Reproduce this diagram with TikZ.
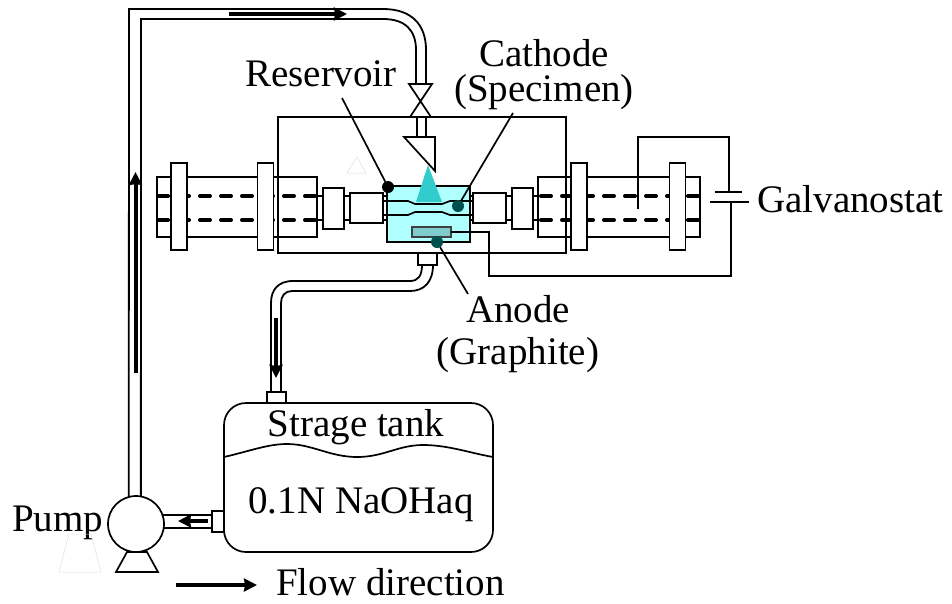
\documentclass[tikz,border=0pt]{standalone}
\usepackage{fontspec}
\setmainfont{Liberation Serif}
\usetikzlibrary{arrows.meta,backgrounds}
\definecolor{bath cyan}{HTML}{AFFFFF}
\definecolor{jet teal}{HTML}{33CCCC}
\definecolor{plate teal}{HTML}{80CCCC}
\definecolor{dot teal}{HTML}{004F4F}
\tikzset{
    rig box/.style={
        rectangle,
        draw=black,
        fill=white,
        line width=1.7pt,
        inner sep=0pt,
        outer sep=0pt
    },
    rig line/.style={line width=1.7pt, black},
    pipe wall/.style={line width=1.8pt, black},
    rig label/.style={font=\fontsize{39}{#1}\selectfont, text=black, inner sep=0pt, align=center},
    rig label/.default=42,
    rod dash/.style={line width=4pt, line cap=round, dash pattern=on 10pt off 11pt, dash phase=-2pt},
    flow arrow/.style={line width=4pt, -{Stealth[length=13pt,width=13pt,inset=1pt]}},
    leader dot/.style={circle, fill=#1, draw=none, minimum size=12pt, inner sep=0pt, outer sep=0pt},
    ghost line/.style={line width=0.5pt, draw=black!13}
}
\begin{document}
\begin{tikzpicture}[x=1pt,y=-1pt]
\useasboundingbox (0,0) rectangle (952,603);

% Tubes on both sides of the cell
\node[rig box, minimum width=160pt, minimum height=60pt] (tube left) at (237,207) {};
\node[rig box, minimum width=162pt, minimum height=60pt] (tube right) at (619,207) {};
\draw[rod dash] (317,196) -- (157,196);
\draw[rod dash] (317,220) -- (157,220);
\draw[rod dash] (700,196) -- (538,196);
\draw[rod dash] (700,220) -- (538,220);
\foreach \xpos/\name in {179/a, 265.5/b, 579/c, 677.5/d}
    \node[rig box, minimum width=16pt, minimum height=87pt] (flange \name) at (\xpos,206.5) {};

% Couplings and rods
\draw[rig line] (317,196) -- (512,196) (317,220) -- (512,220);
\draw[rig line] (533,196) -- (538,196) (533,220) -- (538,220);
\node[rig box, minimum width=21pt, minimum height=41pt] (coupling left) at (333.5,208.5) {};
\node[rig box, minimum width=21pt, minimum height=41pt] (coupling right) at (522.5,208.5) {};
\node[rig box, minimum width=33pt, minimum height=30pt] (holder left) at (366.5,208) {};
\node[rig box, minimum width=33pt, minimum height=30pt] (holder right) at (489.5,208) {};

% Cell and reservoir
\node[rig box, fill=bath cyan, minimum width=83pt, minimum height=56pt] (reservoir) at (428.5,214) {};
\draw[rig line] (383,201) -- (408,201) -- (415,204) -- (442,204) -- (450,201) -- (473,201);
\draw[rig line] (383,215) -- (408,215) -- (415,212) -- (442,212) -- (450,215) -- (473,215);
\fill[jet teal] (428,165) -- (442,202) -- (416,202) -- cycle;
\node[rig box, draw=black!75, fill=plate teal, minimum width=39pt, minimum height=10pt] (anode plate) at (431.5,232) {};
\node[rig box, fill=none, minimum width=288pt, minimum height=136pt] (chamber) at (422,185) {};
\draw[rig line, fill=white] (404,137) -- (435,137) -- (435,171) -- cycle;
\coordinate (nozzle a) at (417,137);
\coordinate (nozzle b) at (426,137);
\draw[rig line] (nozzle a) -- (417,116) (nozzle b) -- (426,116);
\draw[rig line] (409,84) -- (432,84) -- (410,117) -- (431,117) -- cycle;
\node[rig box, minimum width=19pt, minimum height=12pt] (port cell) at (427.5,259) {};

% Leader lines
\node[leader dot=black] (dot reservoir) at (388,187) {};
\node[leader dot=dot teal] (dot cathode) at (458,206) {};
\node[leader dot=dot teal] (dot anode) at (437,242) {};
\coordinate (end reservoir) at (342,98);
\coordinate (end cathode) at (513,113);
\coordinate (end anode) at (468,294);
\draw[rig line] (end reservoir) -- (dot reservoir);
\draw[rig line] (end cathode) -- (dot cathode);
\draw[rig line] (dot anode) -- (end anode);

% Galvanostat wiring
\coordinate (cap top) at (729,192);
\coordinate (cap bottom) at (731,202);
\coordinate (probe) at (638,209);
\draw[rig line] (anode plate.east) -- (489,232) -- (489,276) -- (731,276) -- (cap bottom);
\draw[rig line] (probe) -- (638,137) -- (729,137) -- (cap top);
\draw[rig line] (715,192) -- (742,192) (710,202) -- (749,202);

% Tank and pump
\node[rig box, rounded corners=22pt, minimum width=269pt, minimum height=149pt] (tank) at (358.5,477.5) {};
\draw[rig line] (tank.west |- 0,457) .. controls (250,451) and (268,444) .. (287,444)
    .. controls (312,444) and (330,457) .. (357,457)
    .. controls (384,457) and (398,445) .. (423,445)
    .. controls (448,445) and (470,453) .. (tank.east |- 0,457);
\node[rig box, minimum width=19pt, minimum height=11pt] (port top) at (276.5,397.5) {};
\node[rig box, minimum width=12pt, minimum height=21pt] (port side) at (218,521.5) {};
\draw[rig line, fill=white] (127,552) -- (147,552) -- (158,572) -- (116,572) -- cycle;
\node[rig box, circle, minimum size=56pt] (pump) at (136,524) {};
\draw[pipe wall] (pump.19) -- (port side.west |- pump.19);
\draw[pipe wall] (pump.-8) -- (port side.west |- pump.-8);

% Piping
\draw[pipe wall] (pump.105) -- (129,9) -- (383,9) .. controls (411,9) and (426,24) .. (426,50) -- (426,84);
\draw[pipe wall] (pump.80) -- (141,19) -- (383,19) .. controls (405,19) and (416,30) .. (416,50) -- (416,84);
\draw[pipe wall] (port cell.south -| 422,0) .. controls (422,276) and (418,281) .. (410,281) -- (293,281)
    .. controls (278,281) and (271,290) .. (271,303) -- (271,392);
\draw[pipe wall] (port cell.south -| 433,0) .. controls (433,282) and (424,291) .. (410,291) -- (292,291)
    .. controls (285,291) and (281,296) .. (281,303) -- (281,392);

% Flow arrows
\coordinate (flow a) at (135.5,373);
\coordinate (flow b) at (135.5,172);
\coordinate (flow c) at (229,14);
\coordinate (flow d) at (347,14);
\coordinate (flow e) at (276,318);
\coordinate (flow f) at (276,378);
\coordinate (flow g) at (208,521);
\coordinate (flow h) at (178,521);
\coordinate (flow i) at (176,585);
\coordinate (flow j) at (257,585);
\foreach \from/\to in {a/b, c/d, e/f, g/h, i/j}
    \draw[flow arrow] (flow \from) -- (flow \to);

% Labels
\node[rig label, anchor=base] (label reservoir) at (321,86) {Reservoir};
\node[rig label=35] (label cathode) at (544,75) {Cathode\\(Specimen)};
\node[rig label, anchor=base west] (label galvanostat) at (757,212) {Galvanostat};
\node[rig label] (label anode) at (518,334) {Anode\\(Graphite)};
\node[rig label, anchor=base] (label tank) at (356,436) {Strage tank};
\node[rig label, anchor=base] (label bath) at (361,513) {0.1N NaOHaq};
\node[rig label, anchor=base west] (label pump) at (12,531) {Pump};
\node[rig label, anchor=base west] (label flow) at (276,595) {Flow direction};

% Faint marks
\draw[ghost line] (69,534) -- (91,534) -- (101,572) -- (59,572) -- cycle;
\draw[ghost line] (357,157) -- (366,173) -- (347,173) -- cycle;

\end{tikzpicture}
\end{document}
